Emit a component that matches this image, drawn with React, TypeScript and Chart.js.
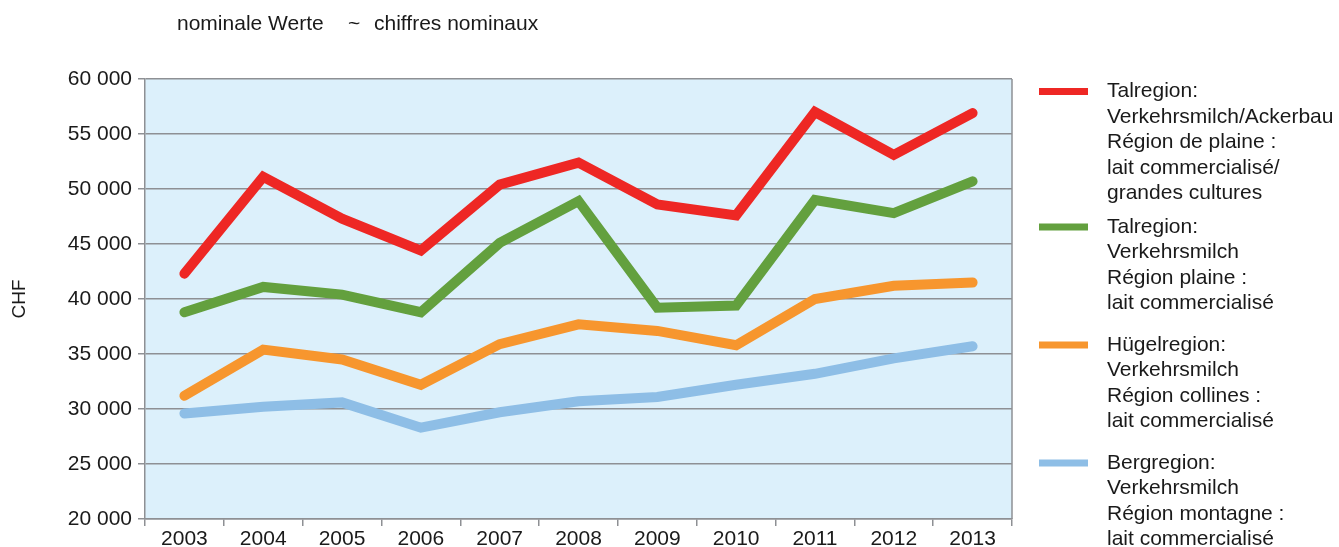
import React, { useEffect, useRef } from "react";
import { Chart, registerables } from "chart.js";

Chart.register(...registerables);

const years = ["2003", "2004", "2005", "2006", "2007", "2008", "2009", "2010", "2011", "2012", "2013"];
const talAcker = [42300, 51100, 47300, 44400, 50400, 52400, 48600, 47600, 57000, 53100, 56900];
const talMilch = [38800, 41100, 40400, 38800, 45100, 48900, 39200, 39400, 49000, 47800, 50700];
const huegel = [31200, 35400, 34500, 32200, 35900, 37700, 37100, 35800, 40000, 41200, 41500];
const berg = [29600, 30200, 30600, 28300, 29700, 30700, 31100, 32200, 33200, 34600, 35700];

const seriesNames = [
  ["Talregion:", "Verkehrsmilch/Ackerbau", "Région de plaine :", "lait commercialisé/", "grandes cultures"],
  ["Talregion:", "Verkehrsmilch", "Région plaine :", "lait commercialisé"],
  ["Hügelregion:", "Verkehrsmilch", "Région collines :", "lait commercialisé"],
  ["Bergregion:", "Verkehrsmilch", "Région montagne :", "lait commercialisé"],
];
const seriesColors = ["#ee2724", "#63a03e", "#f7962e", "#8ebee6"];
const titleParts = ["nominale Werte", "~", "chiffres nominaux"];

const FONT = "'Liberation Sans', Arial, sans-serif";

export default function App() {
  const ref = useRef<HTMLCanvasElement | null>(null);
  useEffect(() => {
    document.body.style.margin = "0";
    const canvas = ref.current!;
    const decor = {
      id: "decor",
      beforeDraw(chart: any) {
        const { ctx, chartArea } = chart;
        ctx.save();
        ctx.fillStyle = "#dcf0fb";
        ctx.fillRect(chartArea.left, chartArea.top, chartArea.right - chartArea.left, chartArea.bottom - chartArea.top);
        ctx.restore();
      },
      afterDraw(chart: any) {
        const { ctx, chartArea } = chart;
        ctx.save();
        ctx.strokeStyle = "#8e9094";
        ctx.lineWidth = 1.5;
        ctx.beginPath();
        ctx.moveTo(chartArea.right, chartArea.top);
        ctx.lineTo(chartArea.right, chartArea.bottom);
        ctx.stroke();
        // title
        ctx.fillStyle = "#1a1a1a";
        ctx.font = `21px ${FONT}`;
        ctx.textBaseline = "middle";
        ctx.textAlign = "left";
        const titleX = [177, 348, 374];
        titleParts.forEach((t, i) => ctx.fillText(t, titleX[i], 24));
        // legend
        const starts = [91.5, 227, 345, 463];
        const lh = 25.5;
        seriesNames.forEach((lines, i) => {
          const y = starts[i];
          ctx.fillStyle = seriesColors[i];
          ctx.fillRect(1039, y - 3.5, 49, 7);
          ctx.fillStyle = "#1a1a1a";
          lines.forEach((t, j) => {
            ctx.fillText(t, 1107, y + j * lh);
          });
        });
        ctx.restore();
      },
    };
    const mk = (data: number[], i: number) => ({
      label: seriesNames[i].join(" "),
      data,
      borderColor: seriesColors[i],
      backgroundColor: seriesColors[i],
      borderWidth: 10,
      pointRadius: 0,
      borderCapStyle: "round" as const,
      borderJoinStyle: "miter" as const,
      tension: 0,
      fill: false,
    });
    const chart = new Chart(canvas, {
      type: "line",
      data: {
        labels: years,
        datasets: [mk(talAcker, 0), mk(talMilch, 1), mk(huegel, 2), mk(berg, 3)],
      },
      options: {
        animation: false,
        responsive: false,
        maintainAspectRatio: false,
        layout: { padding: { left: 0, top: 79, right: 327, bottom: 0 } },
        plugins: { legend: { display: false }, tooltip: { enabled: false }, title: { display: false } },
        scales: {
          x: {
            offset: true,
            grid: { display: true, drawOnChartArea: false, drawTicks: true, tickLength: 7, color: "#8e9094", lineWidth: 1.5, offset: true },
            border: { display: true, color: "#8e9094", width: 1.5 },
            ticks: { color: "#1a1a1a", font: { family: FONT, size: 21 }, padding: 1, maxRotation: 0, autoSkip: false },
            afterFit(scale: any) { scale.height = 28; },
          },
          y: {
            min: 20000,
            max: 60000,
            ticks: {
              stepSize: 5000,
              color: "#1a1a1a",
              font: { family: FONT, size: 21 },
              padding: 6,
              callback: (v: any) => {
                const n = Number(v);
                const th = Math.floor(n / 1000);
                return `${th} 000`;
              },
            },
            grid: { color: "#8e9094", lineWidth: 1.5, tickLength: 7, drawTicks: true },
            border: { display: true, color: "#8e9094", width: 1.5 },
            title: { display: true, text: "CHF", color: "#1a1a1a", font: { family: FONT, size: 19 }, padding: { top: 8, bottom: 0 } },
            afterFit(scale: any) { scale.width = 145; },
          },
        },
      },
      plugins: [decor],
    });
    return () => chart.destroy();
  }, []);
  return <canvas ref={ref} width={1339} height={547} style={{ display: "block" }} />;
}
